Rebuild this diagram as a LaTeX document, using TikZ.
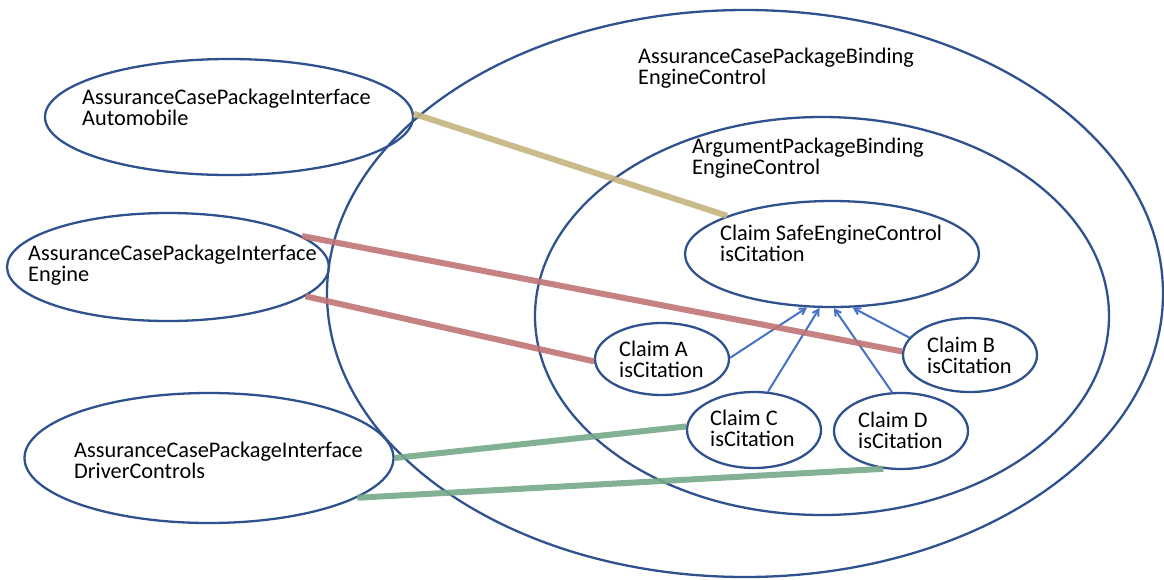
\documentclass[tikz,border=0pt]{standalone}
\usepackage{fontspec}
\setmainfont{Carlito}
\usetikzlibrary{shapes.geometric,arrows.meta}
\definecolor{outl}{RGB}{47,82,143}
\definecolor{arrc}{RGB}{68,114,196}
\definecolor{goldl}{RGB}{196,180,125}
\definecolor{redl}{RGB}{192,116,118}
\definecolor{greenl}{RGB}{118,168,136}
\tikzset{
  oval/.style={ellipse,draw=outl,line width=2.3pt,inner sep=0pt},
  txt/.style={align=left,inner sep=0pt,anchor=west,font=\fontsize{22.3}{21}\selectfont},
  link/.style={line width=6pt,opacity=0.9},
  dep/.style={draw=arrc,line width=2pt,-{Straight Barb[length=6pt,width=7pt]}}
}
\begin{document}
\begin{tikzpicture}[x=1pt,y=-1pt]
\useasboundingbox (0,0) rectangle (1164,579);
% containers
\node[oval,minimum width=836pt,minimum height=567pt] (outer) at (745,293.5) {};
\node[oval,minimum width=574pt,minimum height=398pt] (inner) at (822,316) {};
% left interfaces
\node[oval,minimum width=368pt,minimum height=116pt] (auto) at (229,117) {};
\node[oval,minimum width=322pt,minimum height=108pt] (eng) at (168,267) {};
\node[oval,minimum width=369pt,minimum height=130pt] (drv) at (209,458) {};
% claims
\node[oval,minimum width=294pt,minimum height=106pt] (sec) at (832,254) {};
\node[oval,minimum width=134pt,minimum height=72pt] (ca) at (662,359) {};
\node[oval,minimum width=134pt,minimum height=74pt] (cb) at (970,355) {};
\node[oval,minimum width=134pt,minimum height=76pt] (cc) at (754,430) {};
\node[oval,minimum width=134pt,minimum height=76pt] (cd) at (901,431) {};
% texts
\node[txt] (touter) at (638,68) {AssuranceCasePackageBinding\\EngineControl};
\node[txt] (tinner) at (692,158) {ArgumentPackageBinding\\EngineControl};
\node[txt] (tauto) at (82,107) {AssuranceCasePackageInterface\\Automobile};
\node[txt] (teng) at (28,265) {AssuranceCasePackageInterface\\Engine};
\node[txt] (tdrv) at (74,460) {AssuranceCasePackageInterface\\DriverControls};
\node[txt] (tsec) at (720,243) {Claim SafeEngineControl\\isCitation};
\node[txt] (tca) at (619,359) {Claim A\\isCitation};
\node[txt] (tcb) at (927,355) {Claim B\\isCitation};
\node[txt] (tcc) at (710,428) {Claim C\\isCitation};
\node[txt] (tcd) at (858,430) {Claim D\\isCitation};
% dependency arrows
\draw[dep] (ca.1) -- (sec.-115);
\draw[dep] (cc.70) -- (sec.-103);
\draw[dep] (cd.103) -- (sec.-88);
\draw[dep] (cb.164) -- (sec.-69);
% bindings
\draw[link,draw=goldl] (auto.1) -- (sec.160);
\draw[link,draw=redl] (eng.13) -- (cb.177);
\draw[link,draw=redl] (eng.-12) -- (ca.182);
\draw[link,draw=greenl] (drv.0) -- (cc.177);
\draw[link,draw=greenl] (drv.-15) -- (cd.-115);
\end{tikzpicture}
\end{document}
